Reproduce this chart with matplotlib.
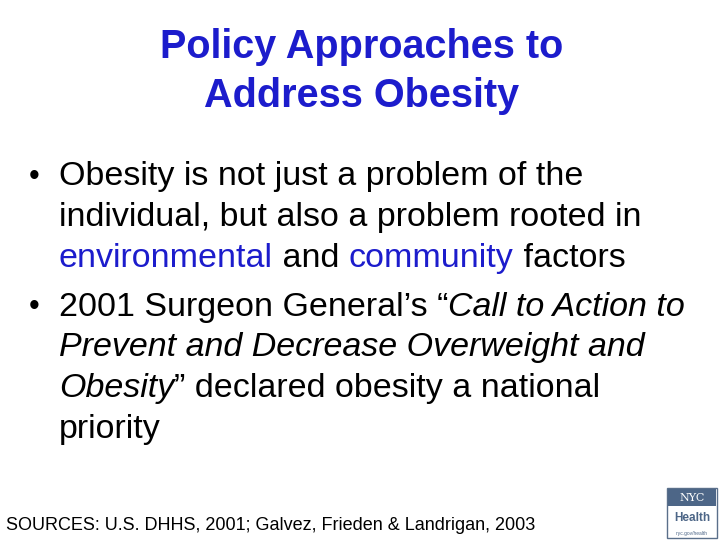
import matplotlib
matplotlib.use("Agg")
import matplotlib.pyplot as plt
from matplotlib.patches import Rectangle

title_lines = ["Policy Approaches to", "Address Obesity"]
blue = "#1c1ccc"
bullet1 = [
    [("Obesity is not just a problem of the", "black", False)],
    [("individual, but also a problem rooted in", "black", False)],
    [("environmental", blue, False), (" and ", "black", False), ("community", blue, False), (" factors", "black", False)],
]
bullet2 = [
    [("2001 Surgeon General\u2019s \u201c", "black", False), ("Call to Action to", "black", True)],
    [("Prevent and Decrease Overweight and", "black", True)],
    [("Obesity", "black", True), ("\u201d declared obesity a national", "black", False)],
    [("priority", "black", False)],
]
source = "SOURCES: U.S. DHHS, 2001; Galvez, Frieden & Landrigan, 2003"

fig = plt.figure(figsize=(7.2, 5.4), dpi=100)
ax = fig.add_axes([0, 0, 1, 1])
ax.set_xlim(0, 720); ax.set_ylim(540, 0); ax.axis("off")
fam = "Liberation Sans"

for i, t in enumerate(title_lines):
    ax.text(362, 47 + i * 49, t, color=blue, fontsize=28.5, fontweight="bold",
            family=fam, ha="center", va="center")

fig.canvas.draw()
r = fig.canvas.get_renderer()

def draw_line(segs, x, y):
    for txt, col, it in segs:
        tt = ax.text(x, y, txt, color=col, fontsize=24.5, family=fam,
                     style="italic" if it else "normal", ha="left", va="center")
        bb = tt.get_window_extent(renderer=r)
        x += bb.width

y = 177
for blines in (bullet1, bullet2):
    ax.text(29, y, "\u2022", fontsize=22, family=fam, ha="left", va="center")
    for segs in blines:
        draw_line(segs, 59, y)
        y += 40.7
    y += 8

ax.text(6, 525, source, fontsize=13, family=fam, ha="left", va="center")

ax.add_patch(Rectangle((667, 488), 50, 50, facecolor="white", edgecolor="#5a6f8a", lw=1))
ax.add_patch(Rectangle((668, 489), 48, 17, facecolor="#4d6687", edgecolor="none"))
ax.text(692, 498, "NYC", color="white", fontsize=8, family="DejaVu Serif", ha="center", va="center")
ax.text(692, 518, "Health", color="#4d6687", fontsize=8.5, fontweight="bold", family=fam, ha="center", va="center")
ax.text(692, 533, "nyc.gov/health", color="#4d6687", fontsize=3.5, family=fam, ha="center", va="center")

fig.savefig("out.png", dpi=100)
